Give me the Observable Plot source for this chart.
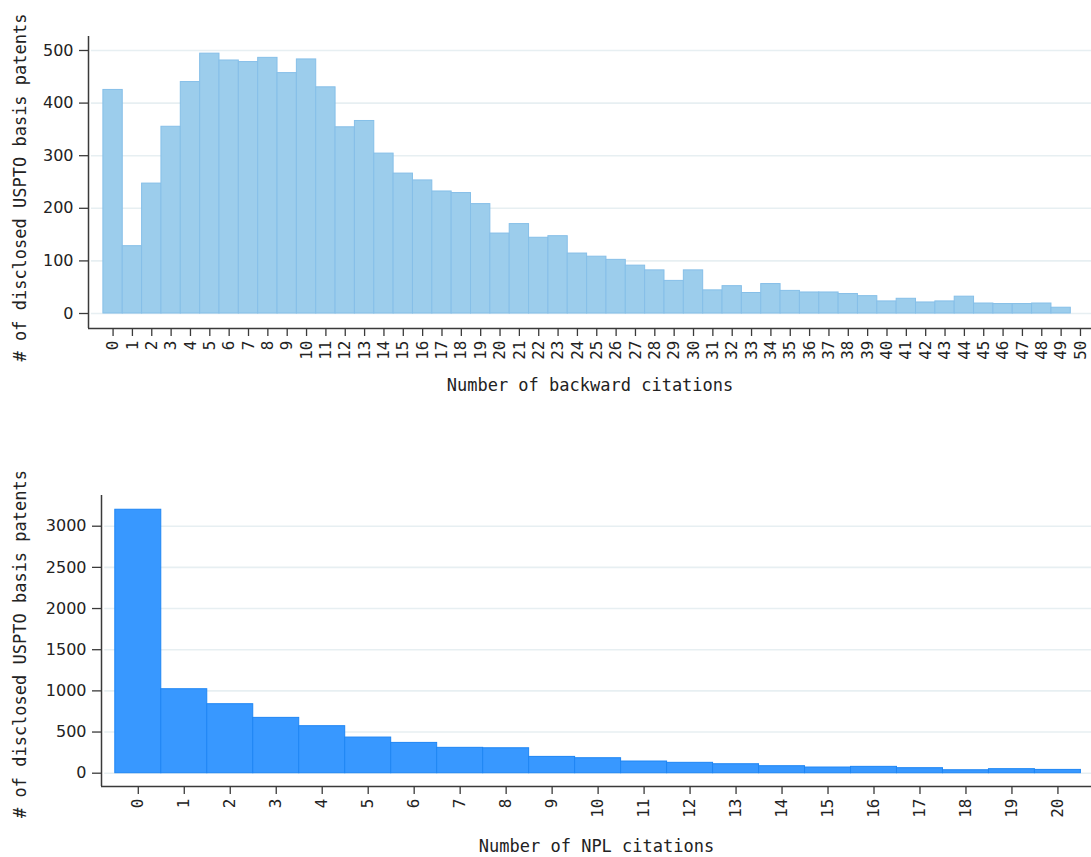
<!DOCTYPE html>
<html>
<head>
<meta charset="utf-8">
<script src="https://cdn.jsdelivr.net/npm/d3@7"></script>
<script src="https://cdn.jsdelivr.net/npm/@observablehq/plot@0.6"></script>
<style>
  body { margin: 0; background: #fff; }
  #chart svg { display: block; }
</style>
</head>
<body>
<div id="chart"></div>
<script>
// ---- Data ----
const backwardCategories = [0,1,2,3,4,5,6,7,8,9,10,11,12,13,14,15,16,17,18,19,20,21,22,23,24,25,26,27,28,29,30,31,32,33,34,35,36,37,38,39,40,41,42,43,44,45,46,47,48,49];
const backwardCounts = [425,128,247,355,440,494,481,478,486,457,483,430,354,366,304,266,253,232,229,208,152,170,144,147,114,108,102,91,82,62,82,44,52,39,56,43,40,40,37,33,23,28,21,23,32,19,18,18,19,11];
const backwardXTicks = [0,1,2,3,4,5,6,7,8,9,10,11,12,13,14,15,16,17,18,19,20,21,22,23,24,25,26,27,28,29,30,31,32,33,34,35,36,37,38,39,40,41,42,43,44,45,46,47,48,49,50];
const backwardYTicks = [0,100,200,300,400,500];

const nplCategories = [0,1,2,3,4,5,6,7,8,9,10,11,12,13,14,15,16,17,18,19,20];
const nplCounts = [3200,1020,838,672,571,433,368,308,303,198,182,142,126,109,85,69,77,61,36,49,40];
const nplXTicks = [0,1,2,3,4,5,6,7,8,9,10,11,12,13,14,15,16,17,18,19,20];
const nplYTicks = [0,500,1000,1500,2000,2500,3000];

const yTitle = "# of disclosed USPTO basis patents";
const backwardXTitle = "Number of backward citations";
const nplXTitle = "Number of NPL citations";

const MONO = "DejaVu Sans Mono";
const SANS = "DejaVu Sans";
const AXIS = "#3a3a3a";
const GRID = "#e7eff2";

function histogram(o) {
  const data = o.cats.map((c, i) => ({c, n: o.counts[i]}));
  return Plot.plot({
    width: 1091,
    height: o.height,
    marginTop: o.marginTop,
    marginBottom: o.marginBottom,
    marginLeft: o.marginLeft,
    marginRight: 0,
    x: {type: "linear", domain: o.xDomain},
    y: {type: "linear", domain: o.yDomain},
    style: {background: "#fff", color: "#222", overflow: "visible"},
    marks: [
      Plot.ruleY(o.yTicks, {x1: o.xDomain[0] + o.gridStart, x2: o.xDomain[1], stroke: GRID, strokeWidth: 1.6}),
      Plot.rectY(data, {
        x1: d => d.c - 0.5, x2: d => d.c + 0.5,
        y1: d => 0, y2: "n",
        fill: o.fill, stroke: o.stroke, strokeWidth: 1
      }),
      Plot.ruleX([o.xDomain[0]], {y1: o.yDomain[0], y2: o.yDomain[1], stroke: AXIS, strokeWidth: 1.5}),
      Plot.ruleY([o.yDomain[0]], {x1: o.xDomain[0], x2: o.xDomain[1], stroke: AXIS, strokeWidth: 1.5}),
      Plot.axisY({
        ticks: o.yTicks, tickSize: 9, tickPadding: 6, label: null,
        fontFamily: SANS, fontSize: 16, stroke: AXIS, strokeWidth: 1.3, tickFormat: d => String(d)
      }),
      Plot.axisX({
        ticks: o.xTicks, tickSize: 8, tickPadding: 4, tickRotate: -90, label: null,
        fontFamily: MONO, fontSize: o.xTickFont, stroke: AXIS, strokeWidth: 1.3, tickFormat: d => String(d)
      }),
      Plot.text([yTitle], {
        text: d => d, frameAnchor: "left", textAnchor: "middle", rotate: -90, dx: o.yTitleDx, dy: o.yTitleDy,
        fontFamily: MONO, fontSize: 17, fill: "#222"
      }),
      Plot.text([o.xTitle], {
        text: d => d, frameAnchor: "bottom", textAnchor: "middle", dy: o.xTitleDy,
        fontFamily: MONO, fontSize: 17, fill: "#222"
      })
    ]
  });
}

const topChart = histogram({
  cats: backwardCategories, counts: backwardCounts,
  xTicks: backwardXTicks, yTicks: backwardYTicks,
  xDomain: [-1.27, 50.57], yDomain: [-28.5, 526.6],
  height: 430, marginTop: 36, marginBottom: 102, marginLeft: 88,
  gridStart: 0.15,
  fill: "#9ccdec", stroke: "#86bfe8",
  xTitle: backwardXTitle, xTickFont: 16,
  yTitleDx: -68, yTitleDy: 5, xTitleDy: 62
});

const bottomChart = histogram({
  cats: nplCategories, counts: nplCounts,
  xTicks: nplXTicks, yTicks: nplYTicks,
  xDomain: [-0.8, 20.73], yDomain: [-161.5, 3373],
  height: 427, marginTop: 65, marginBottom: 71, marginLeft: 101,
  gridStart: 0.07,
  fill: "#3898ff", stroke: "#1f86f4",
  xTitle: nplXTitle, xTickFont: 16,
  yTitleDx: -81, yTitleDy: 3, xTitleDy: 65
});

const root = document.getElementById("chart");
root.appendChild(topChart);
root.appendChild(bottomChart);
</script>
</body>
</html>
